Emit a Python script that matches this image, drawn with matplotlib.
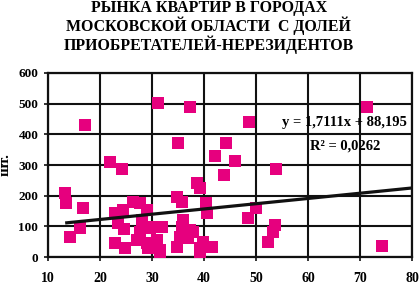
import numpy as np
import matplotlib
matplotlib.use('Agg')
import matplotlib.pyplot as plt

# share of non-resident buyers (%) vs count of apartments (pcs)
share_x = [13.3, 13.5, 14.2, 16.2, 16.7, 17.1, 21.9, 24.2, 22.9, 24.4,
           23.5, 24.6, 22.9, 24.8, 26.4, 27.7, 29.0, 28.0, 27.7, 27.1,
           29.0, 29.2, 30.2, 31.9, 31.0, 31.5, 30.2, 31.2, 34.8, 35.7,
           34.8, 35.4, 36.0, 35.7, 36.9, 37.9, 38.6, 39.2, 39.2, 39.8,
           40.4, 40.6, 41.5, 37.3, 35.0, 44.2, 42.1, 46.0, 43.8, 48.7,
           53.8, 71.3, 74.2, 50.0, 48.5, 53.7, 53.3, 52.3, 31.5, 37.3,
           29.6, 39.2]
count_y = [208, 176, 65, 94, 160, 430, 310, 287, 143, 153,
           111, 91, 46, 29, 179, 176, 153, 121, 81, 55,
           46, 29, 98, 98, 55, 23, 39, 502, 195, 179,
           33, 65, 120, 98, 62, 81, 241, 225, 29, 49,
           176, 143, 33, 489, 371, 371, 329, 313, 266, 440,
           288, 489, 36, 160, 127, 104, 80, 49, 16, 88,
           94, 16]

slope = 1.7111
intercept = 88.195
r2 = 0.0262

title_lines = ['РЫНКА КВАРТИР В ГОРОДАХ',
               'МОСКОВСКОЙ ОБЛАСТИ  С ДОЛЕЙ',
               'ПРИОБРЕТАТЕЛЕЙ-НЕРЕЗИДЕНТОВ']

plt.rcParams['font.family'] = ['Liberation Serif', 'DejaVu Serif']
plt.rcParams['font.weight'] = 'bold'

fig = plt.figure(figsize=(4.2, 2.84), dpi=100)
ax = fig.add_axes([48/420, 27/284, 364/420, 184/284])

for i, line in enumerate(title_lines):
    fig.text(0.497, 1 - (12 + 19*i)/284, line, ha='center', va='baseline',
             fontsize=11.4, fontweight='bold')

ax.scatter(share_x, count_y, marker='s', s=72, color='#E6007E',
           linewidths=0, zorder=3)

# linear trend, drawn from the smallest x to the axis end
xs = np.array([min(share_x), 80])
ax.plot(xs, slope*xs + intercept, color='#111111', lw=2.3, zorder=4,
        solid_capstyle='butt')

ax.text(67.1, 440, 'y = 1,7111x + 88,195', ha='center', va='center',
        fontsize=10.5, fontweight='bold', zorder=5)
ax.text(67.2, 362, 'R² = 0,0262', ha='center', va='center',
        fontsize=10.5, fontweight='bold', zorder=5)

ax.set_xlim(10, 80)
ax.set_ylim(0, 600)
ax.set_xticks(range(10, 81, 10))
ax.set_yticks(range(0, 601, 100))
ax.grid(True, color='#111111', lw=1.5)
ax.set_axisbelow(True)
for s in ax.spines.values():
    s.set_color('#111111')
    s.set_linewidth(1.6)
ax.tick_params(axis='both', direction='out', length=3, width=1.2,
               color='#111111')
ax.tick_params(axis='x', labelsize=10, pad=8)
ax.tick_params(axis='y', labelsize=9.5, pad=4)
for lab in ax.get_xticklabels() + ax.get_yticklabels():
    lab.set_fontweight('bold')

ax.set_ylabel('шт.', fontsize=11, fontweight='bold')
ax.yaxis.set_label_coords(-36/364, 0.5)

fig.savefig('out.png', dpi=100)
